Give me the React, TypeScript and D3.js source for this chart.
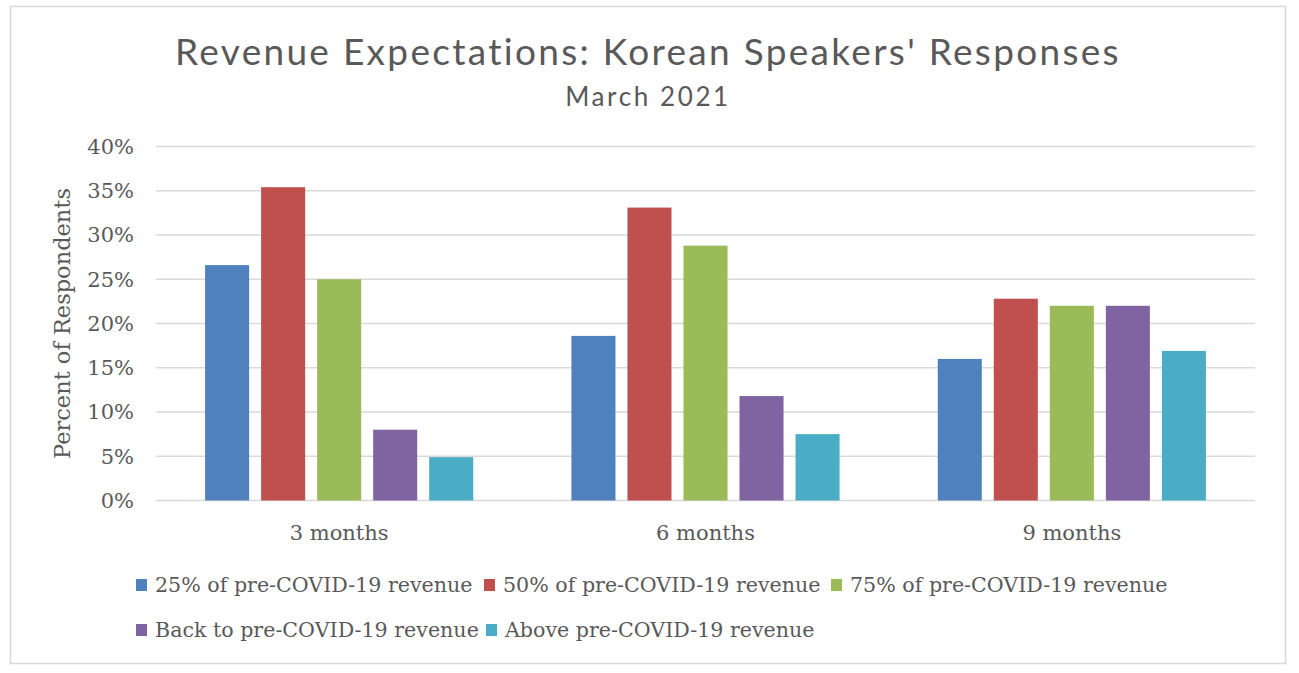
import React from 'react';
import * as d3 from 'd3';

// Chart data
const CATEGORIES = ['3 months', '6 months', '9 months'];
const SERIES = [
  '25% of pre-COVID-19 revenue',
  '50% of pre-COVID-19 revenue',
  '75% of pre-COVID-19 revenue',
  'Back to pre-COVID-19 revenue',
  'Above pre-COVID-19 revenue',
];
const VALUES_25 = [0.266, 0.186, 0.160];
const VALUES_50 = [0.354, 0.331, 0.228];
const VALUES_75 = [0.250, 0.288, 0.220];
const VALUES_BACK = [0.080, 0.118, 0.220];
const VALUES_ABOVE = [0.049, 0.075, 0.169];
const Y_TICKS = [0, 0.05, 0.1, 0.15, 0.2, 0.25, 0.3, 0.35, 0.4];
const COLORS = ['#4f81bd', '#c0504d', '#9bbb59', '#8064a2', '#4bacc6'];

const TITLE = "Revenue Expectations: Korean Speakers' Responses";
const SUBTITLE = 'March 2021';
const Y_LABEL = 'Percent of Respondents';

const W = 1299;
const H = 673;
const TEXT = '#595959';
const GRID = '#d9d9d9';
const SERIF = '"DejaVu Serif", serif';
const SANS = 'Lato, "Noto Sans", sans-serif';

const plot = { left: 156, right: 1255, top: 146.5, bottom: 500.5 };

const App: React.FC = () => {
  const allValues = [VALUES_25, VALUES_50, VALUES_75, VALUES_BACK, VALUES_ABOVE];

  const x0 = d3.scaleBand<string>()
    .domain(CATEGORIES)
    .range([plot.left, plot.right])
    .paddingInner(0.268)
    .paddingOuter(0.134);

  const x1 = d3.scaleBand<string>()
    .domain(SERIES)
    .range([0, x0.bandwidth()])
    .paddingInner(0.214);

  const y = d3.scaleLinear()
    .domain([0, 0.4])
    .range([plot.bottom, plot.top]);

  const fmt = d3.format('.0%');

  // legend layout: two rows
  const legendRows = [
    [{ i: 0, x: 136 }, { i: 1, x: 484 }, { i: 2, x: 831 }],
    [{ i: 3, x: 136 }, { i: 4, x: 486 }],
  ];
  const legendY = [585, 630];

  return (
    <svg
      width={W}
      height={H}
      viewBox={`0 0 ${W} ${H}`}
      style={{ position: 'absolute', left: 0, top: 0, display: 'block', background: '#fff' }}
    >
      {/* chart border */}
      <rect x={10.5} y={6.5} width={1275} height={657} fill="#fff" stroke={GRID} strokeWidth={1.5} />

      {/* title */}
      <text x={648} y={65} textAnchor="middle" fontFamily={SANS} fontSize={37} letterSpacing={2.3} fill={TEXT}>
        {TITLE}
      </text>
      <text x={648} y={106} textAnchor="middle" fontFamily={SANS} fontSize={26} letterSpacing={2.6} fill={TEXT}>
        {SUBTITLE}
      </text>

      {/* gridlines + y ticks */}
      {Y_TICKS.map(t => (
        <g key={t}>
          <line x1={plot.left} x2={plot.right} y1={y(t)} y2={y(t)} stroke={GRID} strokeWidth={1.5} />
          <text
            x={134}
            y={y(t)}
            dy="0.35em"
            textAnchor="end"
            fontFamily={SERIF}
            fontSize={21}
            fill={TEXT}
          >
            {fmt(t)}
          </text>
        </g>
      ))}

      {/* y axis label */}
      <text
        transform={`translate(70, ${(plot.top + plot.bottom) / 2}) rotate(-90)`}
        textAnchor="middle"
        fontFamily={SERIF}
        fontSize={22.5}
        fill={TEXT}
      >
        {Y_LABEL}
      </text>

      {/* bars */}
      {CATEGORIES.map((c, ci) => (
        <g key={c} transform={`translate(${x0(c)},0)`}>
          {SERIES.map((s, si) => {
            const v = allValues[si][ci];
            return (
              <rect
                key={s}
                x={x1(s)}
                y={y(v)}
                width={x1.bandwidth()}
                height={y(0) - y(v)}
                fill={COLORS[si]}
              />
            );
          })}
        </g>
      ))}

      {/* category labels */}
      {CATEGORIES.map(c => (
        <text
          key={c}
          x={(x0(c) ?? 0) + x0.bandwidth() / 2}
          y={540}
          textAnchor="middle"
          fontFamily={SERIF}
          fontSize={21}
          fill={TEXT}
        >
          {c}
        </text>
      ))}

      {/* legend */}
      {legendRows.map((row, ri) => (
        <g key={ri}>
          {row.map(({ i, x }) => (
            <g key={i}>
              <rect x={x} y={legendY[ri] - 6} width={11} height={12} fill={COLORS[i]} />
              <text
                x={x + 19}
                y={legendY[ri]}
                dy="0.35em"
                fontFamily={SERIF}
                fontSize={20.6}
                fill={TEXT}
              >
                {SERIES[i]}
              </text>
            </g>
          ))}
        </g>
      ))}
    </svg>
  );
};

export default App;
